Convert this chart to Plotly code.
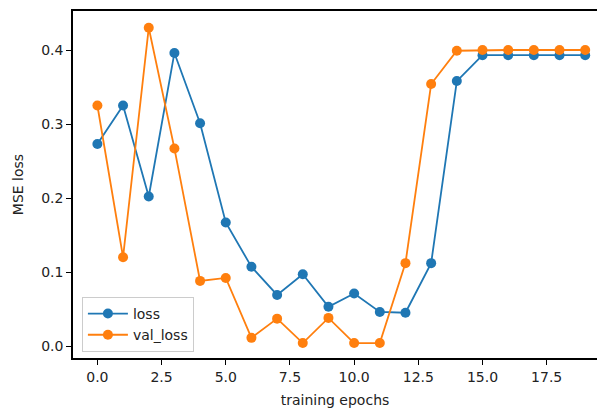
import plotly.graph_objects as go

epochs = list(range(20))
loss = [0.273, 0.325, 0.202, 0.396, 0.301, 0.167, 0.107, 0.069, 0.097, 0.053,
        0.071, 0.046, 0.045, 0.112, 0.358, 0.393, 0.393, 0.393, 0.393, 0.393]
val_loss = [0.325, 0.120, 0.430, 0.267, 0.088, 0.092, 0.011, 0.037, 0.004, 0.038,
            0.004, 0.004, 0.112, 0.354, 0.399, 0.400, 0.400, 0.400, 0.400, 0.400]
x_ticks = [0.0, 2.5, 5.0, 7.5, 10.0, 12.5, 15.0, 17.5]
y_ticks = [0.0, 0.1, 0.2, 0.3, 0.4]

fig = go.Figure()
fig.add_trace(go.Scatter(x=epochs, y=loss, name="loss", mode="lines+markers",
                         line=dict(color="#1f77b4", width=1.8),
                         marker=dict(color="#1f77b4", size=10)))
fig.add_trace(go.Scatter(x=epochs, y=val_loss, name="val_loss", mode="lines+markers",
                         line=dict(color="#ff7f0e", width=1.8),
                         marker=dict(color="#ff7f0e", size=10)))

font = dict(family="DejaVu Sans", size=14, color="#222")
fig.update_layout(
    width=597, height=410,
    margin=dict(l=73, r=0, t=11, b=52),
    paper_bgcolor="white", plot_bgcolor="white",
    font=font,
    showlegend=True,
    legend=dict(x=0.017, y=0.176, xanchor="left", yanchor="top",
                bgcolor="rgba(255,255,255,0.8)", bordercolor="#cccccc", borderwidth=1,
                font=dict(family="DejaVu Sans", size=14, color="#222"),
                itemwidth=40, tracegroupgap=2),
)
fig.update_xaxes(range=[-0.95, 19.46], tickvals=x_ticks,
                 ticktext=[f"{v:.1f}" for v in x_ticks],
                 showgrid=False, zeroline=False,
                 showline=True, linecolor="black", linewidth=1.5, mirror=True,
                 ticks="outside", ticklen=5, tickcolor="black",
                 title=dict(text="training epochs", standoff=12, font=font))
fig.update_yaxes(range=[-0.0162, 0.4527], tickvals=y_ticks,
                 ticktext=[f"{v:.1f}" for v in y_ticks],
                 showgrid=False, zeroline=False,
                 showline=True, linecolor="black", linewidth=1.5,
                 ticks="outside", ticklen=5, tickcolor="black",
                 title=dict(text="MSE loss", standoff=14, font=font))

fig.write_html("out.html", config={"displayModeBar": False},
               post_script="document.body.style.margin='0';document.body.style.overflow='hidden';")
